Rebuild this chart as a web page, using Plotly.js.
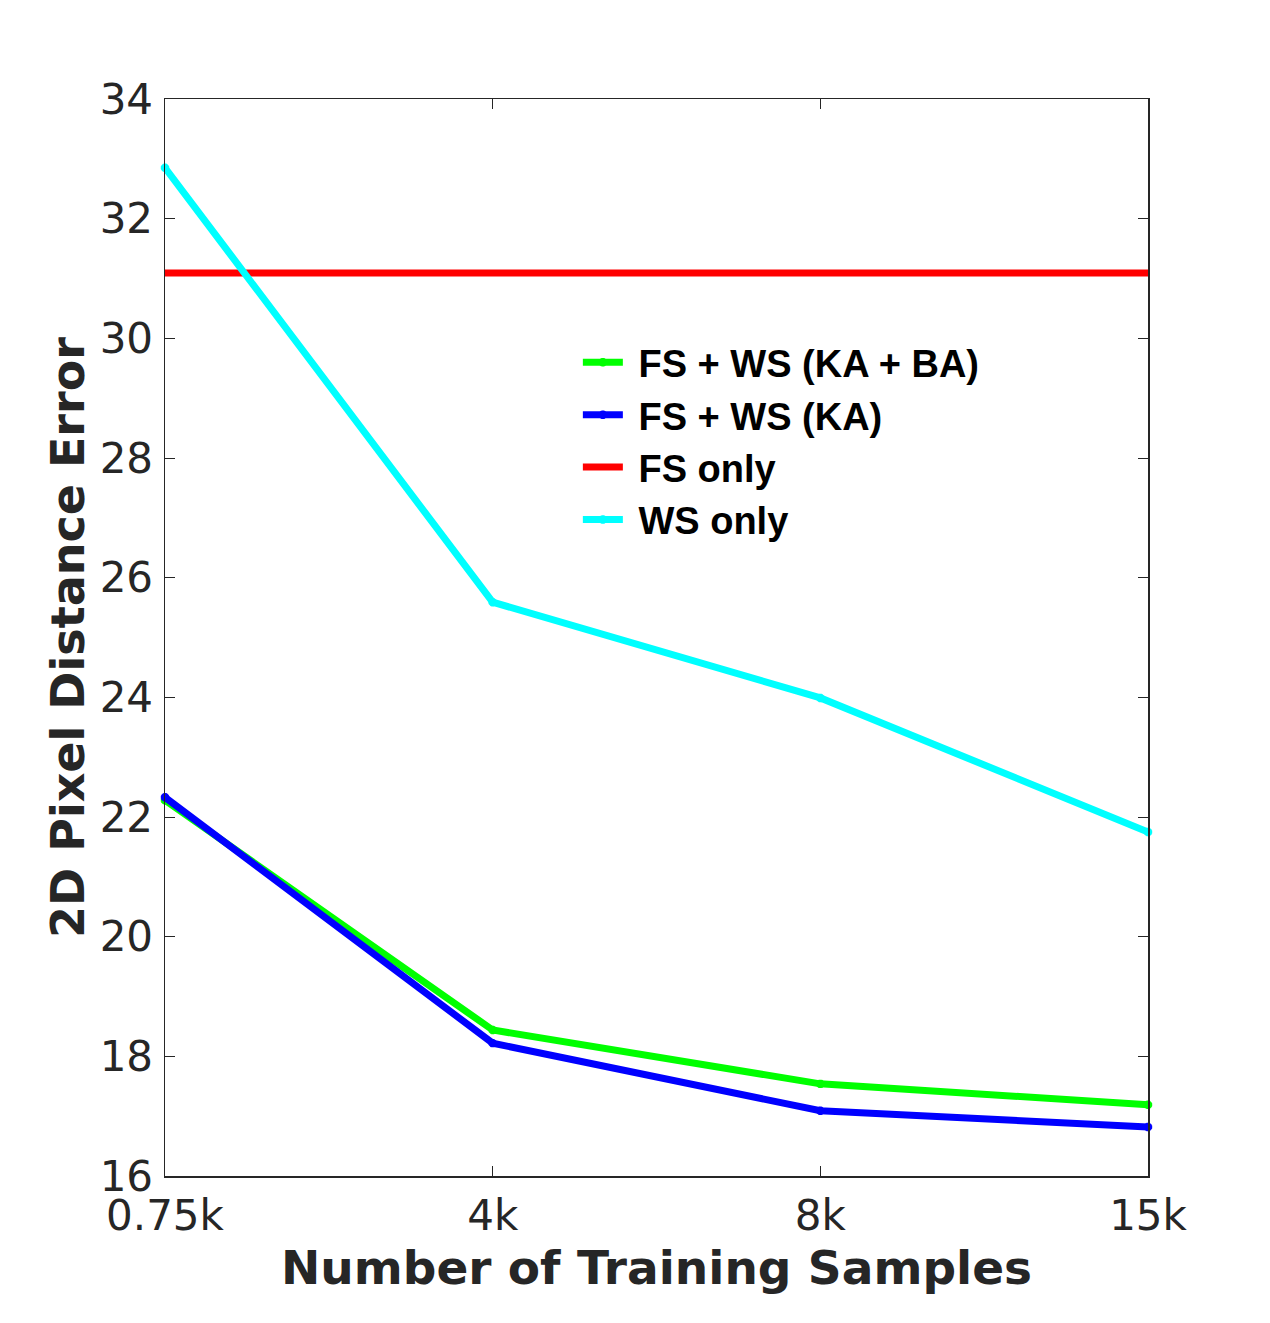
<!DOCTYPE html>
<html>
<head>
<meta charset="utf-8">
<script src="https://cdn.plot.ly/plotly-3.0.1.min.js"></script>
<style>
  html, body { margin: 0; padding: 0; background: #fff; }
  #chart { width: 1270px; height: 1323px; }
</style>
</head>
<body>
<div id="chart"></div>
<script>
// Pixel error vs training set size — four methods.
const samples   = ["0.75k", "4k", "8k", "15k"];
const fsWsKaBa  = [22.28, 18.44, 17.54, 17.19];
const fsWsKa    = [22.33, 18.22, 17.09, 16.82];
const fsOnly    = [31.09, 31.09, 31.09, 31.09];
const wsOnly    = [32.85, 25.59, 23.99, 21.75];

const xs = samples.map((_, i) => i);
const ink = "#262626";
const pad = "\u00a0"; // small gap between legend line and label

function series(name, y, color, withMarker) {
  return {
    type: "scatter",
    mode: withMarker ? "lines+markers" : "lines",
    name: pad + name, x: xs, y,
    line: { color, width: 7 },
    marker: { color, size: 7, symbol: "asterisk-open", line: { color, width: 3 } },
    cliponaxis: false,
  };
}

Plotly.newPlot("chart", [
  series("FS + WS (KA + BA)", fsWsKaBa, "#00ff00", true),
  series("FS + WS (KA)", fsWsKa, "#0000ff", true),
  series("FS only", fsOnly, "#ff0000", false),
  series("WS only", wsOnly, "#00ffff", true),
], {
  width: 1270, height: 1323,
  paper_bgcolor: "#fff", plot_bgcolor: "#fff",
  margin: { l: 165, r: 122, t: 99, b: 147 },
  font: { family: "DejaVu Sans", color: ink },
  showlegend: true,
  legend: {
    x: 0.42, y: 0.7845, xanchor: "left", yanchor: "top",
    bgcolor: "rgba(0,0,0,0)",
    font: { family: "Liberation Sans", size: 38, color: "#000", weight: "bold" },
    itemwidth: 40,
    tracegroupgap: 0,
  },
  xaxis: {
    range: [0, 3],
    tickvals: xs, ticktext: samples,
    ticks: "inside", ticklen: 10, tickcolor: ink,
    showline: true, linecolor: ink, linewidth: 1.5, mirror: "ticks",
    showgrid: false, zeroline: false,
    ticklabelstandoff: 2,
    tickfont: { size: 42, color: ink },
    title: { text: "<b>Number of Training Samples</b>", font: { size: 47, color: ink }, standoff: 12 },
  },
  yaxis: {
    range: [16, 34], dtick: 2,
    ticks: "inside", ticklen: 10, tickcolor: ink,
    showline: true, linecolor: ink, linewidth: 1.5, mirror: "ticks",
    showgrid: false, zeroline: false,
    ticklabelstandoff: 2,
    tickfont: { size: 42, color: ink },
    title: { text: "<b>2D Pixel Distance Error</b>", font: { size: 46, color: ink }, standoff: 0 },
  },
}, { displayModeBar: false, staticPlot: true });
</script>
</body>
</html>
